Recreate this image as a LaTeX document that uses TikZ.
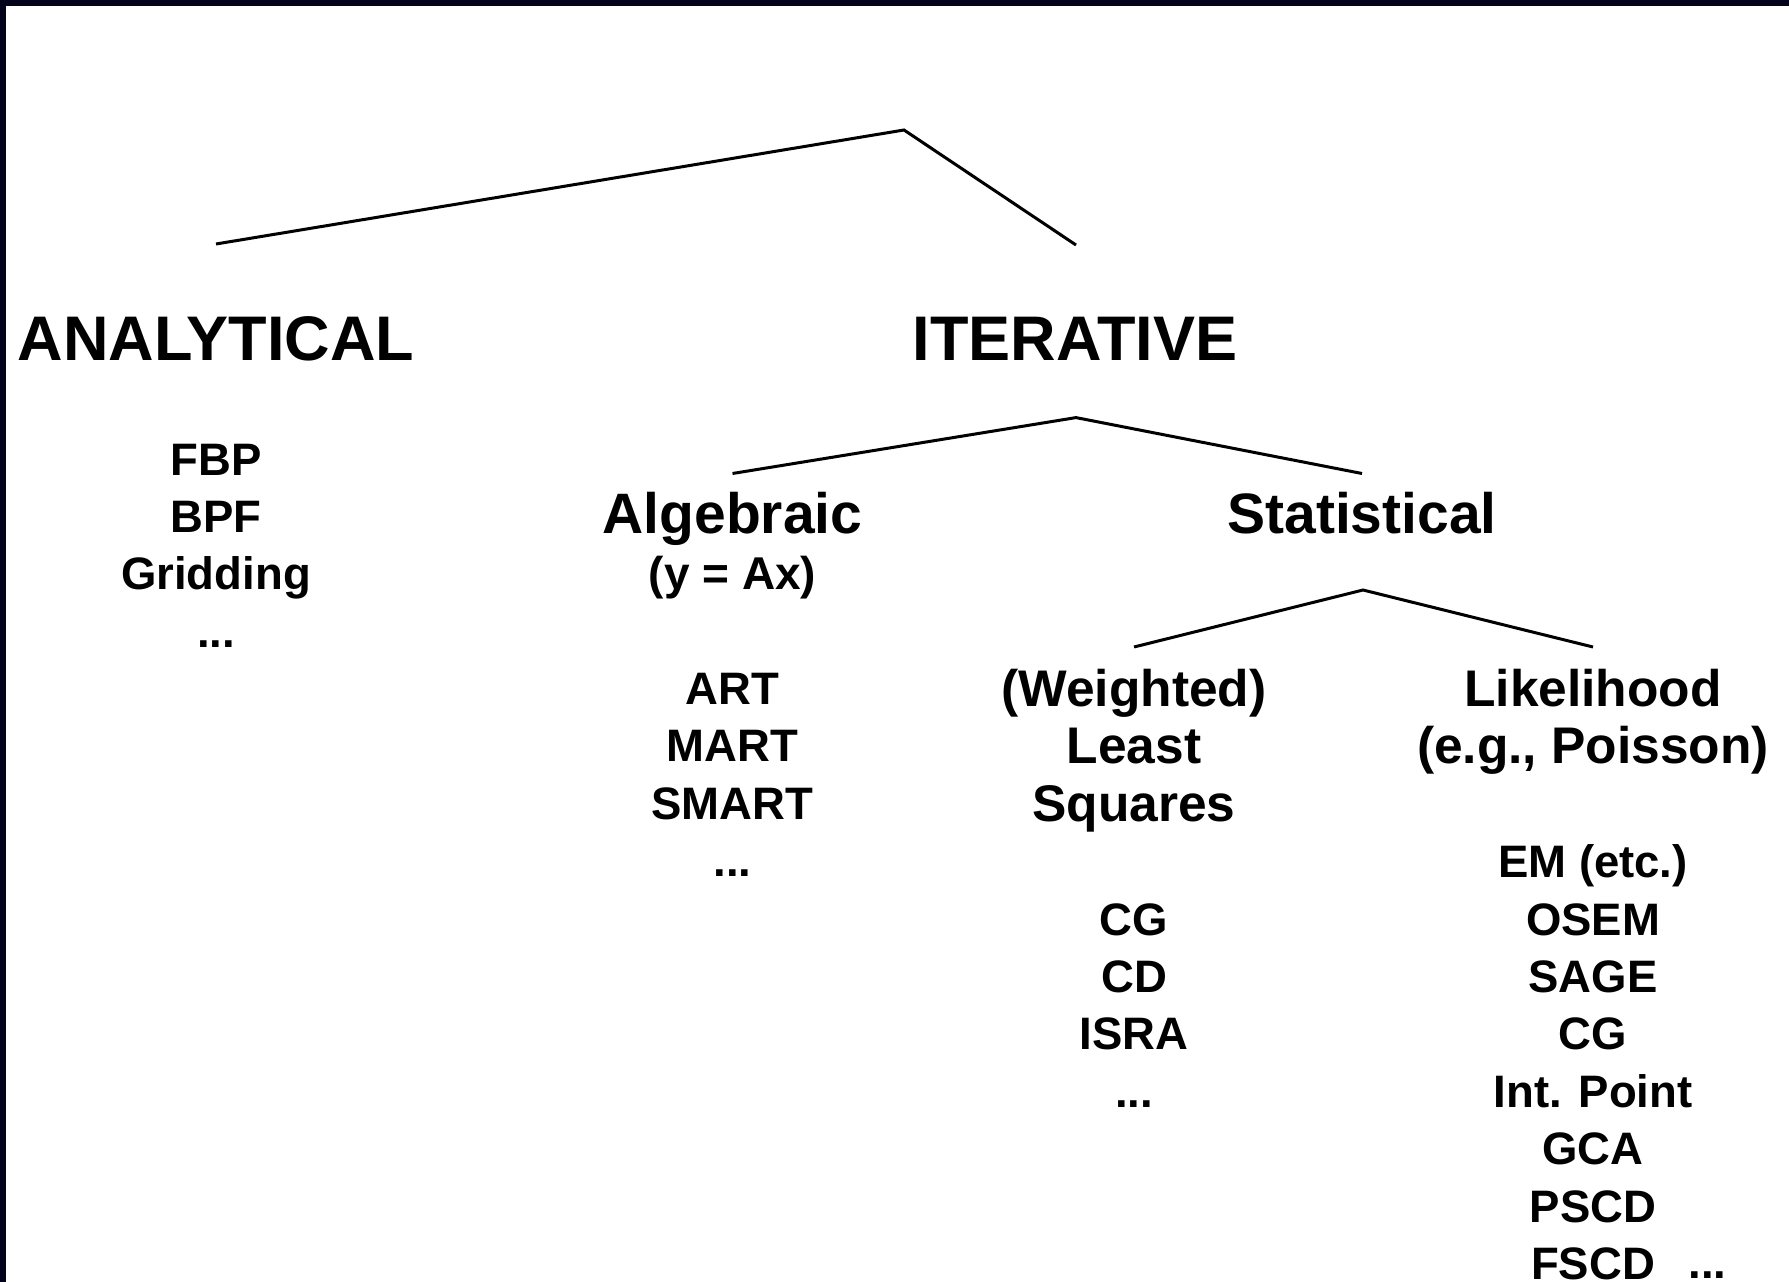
\documentclass[tikz,border=0pt]{standalone}
\usepackage{fontspec}
\setmainfont{Liberation Sans}
\definecolor{framenavy}{RGB}{3,3,28}
\tikzset{
  headtext/.style={font=\bfseries\fontsize{63}{75}\selectfont, inner sep=0pt, anchor=base},
  midtext/.style={font=\bfseries\fontsize{57}{68}\selectfont, inner sep=0pt, anchor=base},
  subtext/.style={font=\bfseries\fontsize{51.5}{57.4}\selectfont, inner sep=0pt, anchor=base, align=center},
  listtext/.style={font=\bfseries\fontsize{45.5}{57.4}\selectfont, inner sep=0pt, anchor=base, align=center},
  branch/.style={line width=3pt, line join=miter}
}

\begin{document}
\begin{tikzpicture}[x=1pt, y=-1pt]
    \useasboundingbox (0,0) rectangle (1789,1282);
    \fill[framenavy] (0,0) rectangle (1789,6);
    \fill[framenavy] (0,0) rectangle (6,1282);

    % top level (base of a list node = its last line)
    \coordinate (root) at (904,130);
    \coordinate (anatop) at (216,244);
    \coordinate (ittop) at (1076,245);
    \node(ana)[headtext] at (216,360.5) {ANALYTICAL};
    \node(it)[headtext] at (1075,360.5) {ITERATIVE};
    \draw[branch] (anatop) -- (root) -- (ittop);

    \node(analist)[listtext] at (216,647.2) {FBP\\BPF\\Gridding\\...};

    % iterative
    \coordinate (itroot) at (1076,417.6);
    \coordinate (algtop) at (732.5,473.5);
    \coordinate (stattop) at (1362,473.5);
    \draw[branch] (algtop) -- (itroot) -- (stattop);
    \node(alg)[midtext] at (732.5,533) {Algebraic};
    \node(algeq)[font=\bfseries\fontsize{46}{55}\selectfont, inner sep=0pt, anchor=base] at (732.5,589.5) {(y = Ax)};
    \node(stat)[midtext] at (1362,533) {Statistical};
    \node(alglist)[listtext] at (732.5,876.7) {ART\\MART\\SMART\\...};

    % statistical
    \coordinate (statroot) at (1363,590);
    \coordinate (lstop) at (1134,647);
    \coordinate (liktop) at (1593,647);
    \draw[branch] (lstop) -- (statroot) -- (liktop);
    \node(ls)[subtext] at (1134,821.3) {(Weighted)\\Least\\Squares};
    \node(lik)[subtext] at (1593,763.9) {Likelihood\\(e.g., Poisson)};
    \node(lslist)[listtext] at (1134,1107.2) {CG\\CD\\ISRA\\...};
    \node(liklist)[listtext] at (1593,1279.5) {EM (etc.)\\OSEM\\SAGE\\CG\\Int. Point\\GCA\\PSCD\\FSCD};
    \node(likmore)[listtext] at (1707.5,1278) {...};

    \end{tikzpicture}
\end{document}
